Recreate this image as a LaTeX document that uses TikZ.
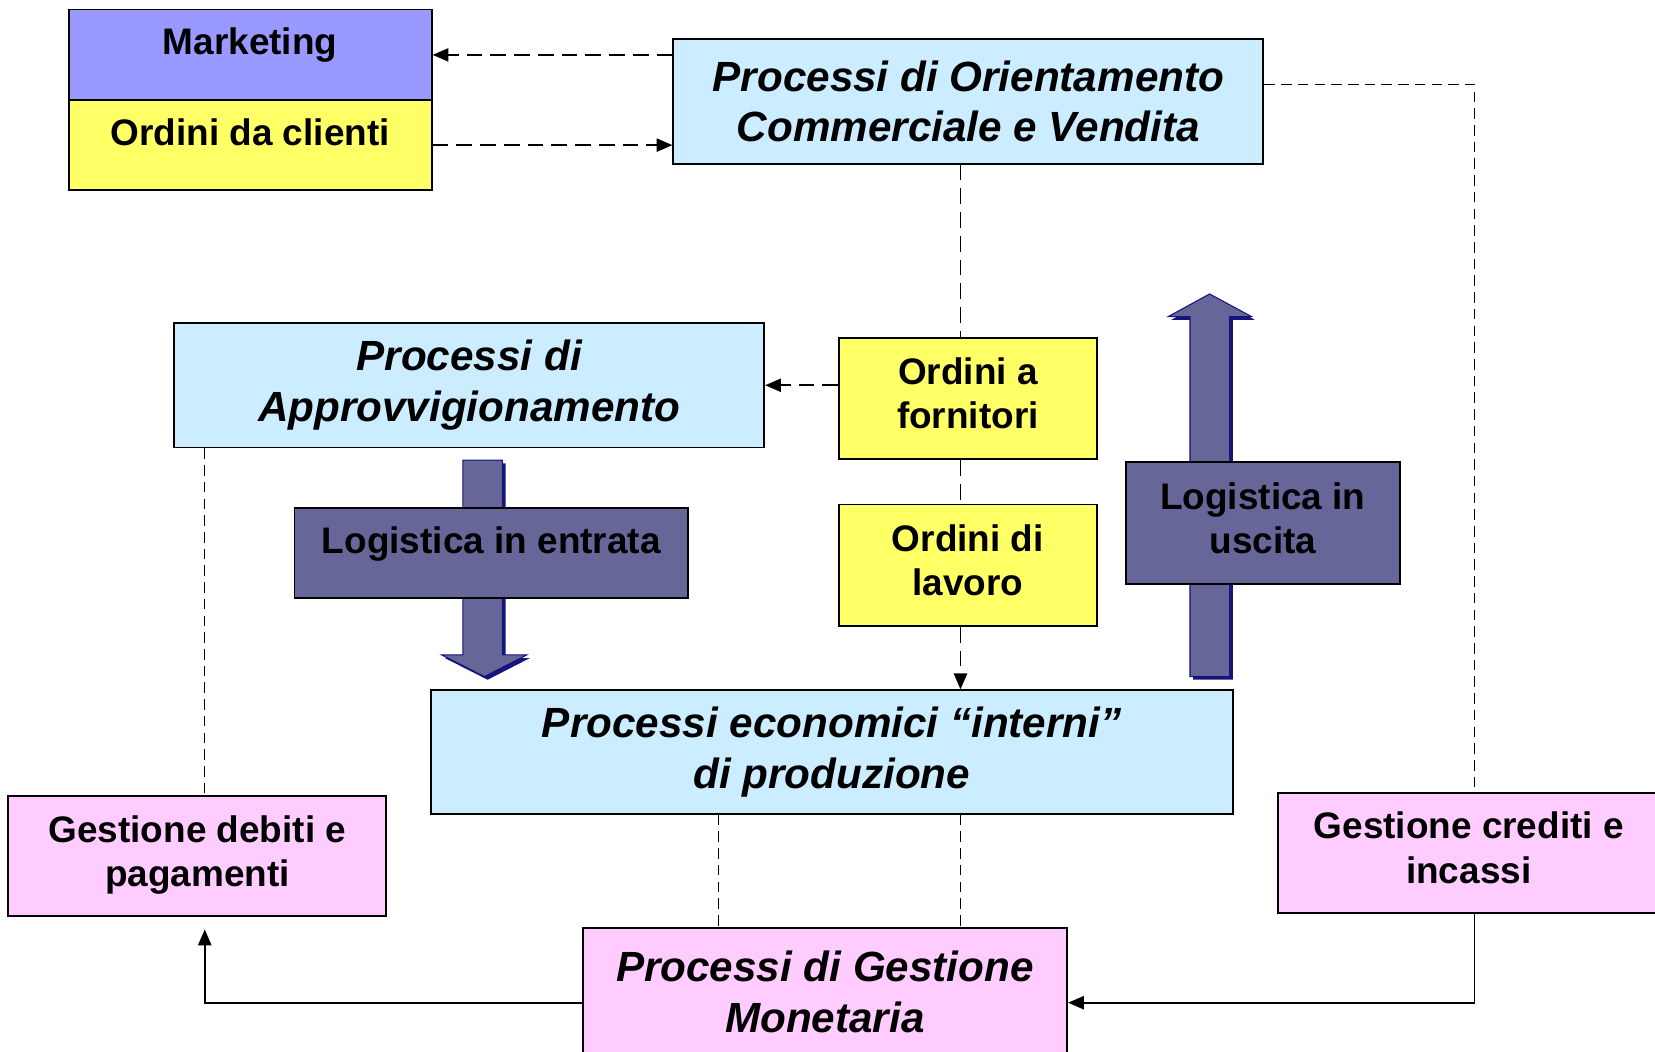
\documentclass[tikz,border=0pt]{standalone}
\usepackage{fontspec}
\setmainfont{Liberation Sans}
\usetikzlibrary{arrows.meta}

\definecolor{lilla}{HTML}{9999FF}
\definecolor{giallo}{HTML}{FFFF66}
\definecolor{celeste}{HTML}{CCECFF}
\definecolor{ardesia}{HTML}{666699}
\definecolor{rosa}{HTML}{FFCCFF}
\definecolor{blunotte}{HTML}{14147A}

\tikzset{
  box/.style={draw, line width=1.1pt, inner sep=0pt, align=center,
    font=\bfseries\fontsize{21}{25.2}\selectfont},
  proc/.style={box, font=\bfseries\itshape\fontsize{24}{28.8}\selectfont},
  riga/.style={text height=16pt, text depth=16pt},
  duerighe/.style={text height=40pt, text depth=5.5pt},
  tratt/.style={line width=1pt, dash pattern=on 9pt off 4.5pt},
  trattfine/.style={line width=0.75pt, dash pattern=on 6pt off 3.5pt},
  pieno/.style={line width=1pt},
}

\begin{document}
\begin{tikzpicture}[x=0.6pt,y=-0.6pt,>={Triangle[length=9pt,width=7.5pt]}]
\useasboundingbox (0,0) rectangle (1568,996);

% --- Frecce della logistica (con ombra) ---
\fill[blunotte,shift={(3,3)}] (438.6,436) -- (476,436) -- (476,620.5) -- (499,620.5)
  -- (459,641) -- (418.5,620.5) -- (438.6,620.5) -- cycle;
\filldraw[fill=ardesia,draw=blunotte,line width=0.6pt] (438.6,436) -- (476,436) -- (476,620.5)
  -- (499,620.5) -- (459,641) -- (418.5,620.5) -- (438.6,620.5) -- cycle;

\fill[blunotte,shift={(3,3)}] (1127.4,641) -- (1165,641) -- (1165,300) -- (1185.8,300)
  -- (1146,278.5) -- (1106.7,300) -- (1127.4,300) -- cycle;
\filldraw[fill=ardesia,draw=blunotte,line width=0.6pt] (1127.4,641) -- (1165,641) -- (1165,300)
  -- (1185.8,300) -- (1146,278.5) -- (1106.7,300) -- (1127.4,300) -- cycle;

% --- Riquadri ---
\node[box,riga,fill=lilla,minimum width=206.4pt,minimum height=51.6pt] (mkt) at (237,52) {Marketing};
\node[box,riga,fill=giallo,minimum width=206.4pt,minimum height=51pt] (ocl) at (237,137.5) {Ordini da clienti};
\node[proc,fill=celeste,minimum width=335.4pt,minimum height=70.8pt] (pocv) at (917.5,96)
  {Processi di Orientamento\\Commerciale e Vendita};
\node[proc,fill=celeste,minimum width=335.4pt,minimum height=70.8pt] (appr) at (444.5,365)
  {Processi di\\Approvvigionamento};
\node[box,duerighe,fill=giallo,minimum width=146.4pt,minimum height=69pt] (ofo) at (917,377.5) {Ordini a\\fornitori};
\node[box,duerighe,fill=giallo,minimum width=146.4pt,minimum height=69pt] (olav) at (917,535.5) {Ordini di\\lavoro};
\node[box,riga,fill=ardesia,minimum width=223.8pt,minimum height=51.6pt] (lent) at (465.5,524) {Logistica in entrata};
\node[box,duerighe,fill=ardesia,minimum width=155.4pt,minimum height=69pt] (lusc) at (1196.5,495.5) {Logistica in\\uscita};
\node[proc,fill=celeste,minimum width=456pt,minimum height=70.2pt] (pec) at (788,712.5)
  {Processi economici “interni”\\di produzione};
\node[box,duerighe,fill=rosa,minimum width=214.8pt,minimum height=68.4pt] (gdeb) at (187,811) {Gestione debiti e\\pagamenti};
\node[box,duerighe,fill=rosa,minimum width=216.6pt,minimum height=68.4pt] (gcred) at (1391.5,808) {Gestione crediti e\\incassi};
\node[proc,fill=rosa,minimum width=275.4pt,minimum height=72.6pt] (pgm) at (781.5,939.5)
  {Processi di Gestione\\Monetaria};

% --- Assi dei collegamenti ---
\coordinate (xord) at (910,0);
\coordinate (xdeb) at (194,0);
\coordinate (xcred) at (1397,0);
\coordinate (xmon) at (681,0);
\coordinate (yvend) at (0,80);
\coordinate (ybase) at (0,950);

% --- Collegamenti tratteggiati ---
\draw[tratt,->] (pocv.west |- mkt.east) -- (mkt.east);
\draw[tratt,->] (ocl.east) -- (pocv.west |- ocl.east);
\draw[tratt] (pocv.south -| xord) -- (ofo.north -| xord);
\draw[tratt,->] (ofo.west |- appr.east) -- (appr.east);
\draw[tratt] (ofo.south -| xord) -- (olav.north -| xord);
\draw[tratt,->] (olav.south -| xord) -- (pec.north -| xord);
\draw[trattfine] (appr.south -| xdeb) -- (gdeb.north -| xdeb);
\draw[trattfine] (pocv.east |- yvend) -| (gcred.north -| xcred);
\draw[trattfine] (pec.south -| xmon) -- (pgm.north -| xmon);
\draw[trattfine] (pec.south -| xord) -- (pgm.north -| xord);

% --- Flussi monetari ---
\draw[pieno,->,shorten >=7pt] (pgm.west |- ybase) -| (gdeb.south -| xdeb);
\draw[pieno,->] (gcred.south -| xcred) |- (pgm.east |- ybase);

\end{tikzpicture}
\end{document}
